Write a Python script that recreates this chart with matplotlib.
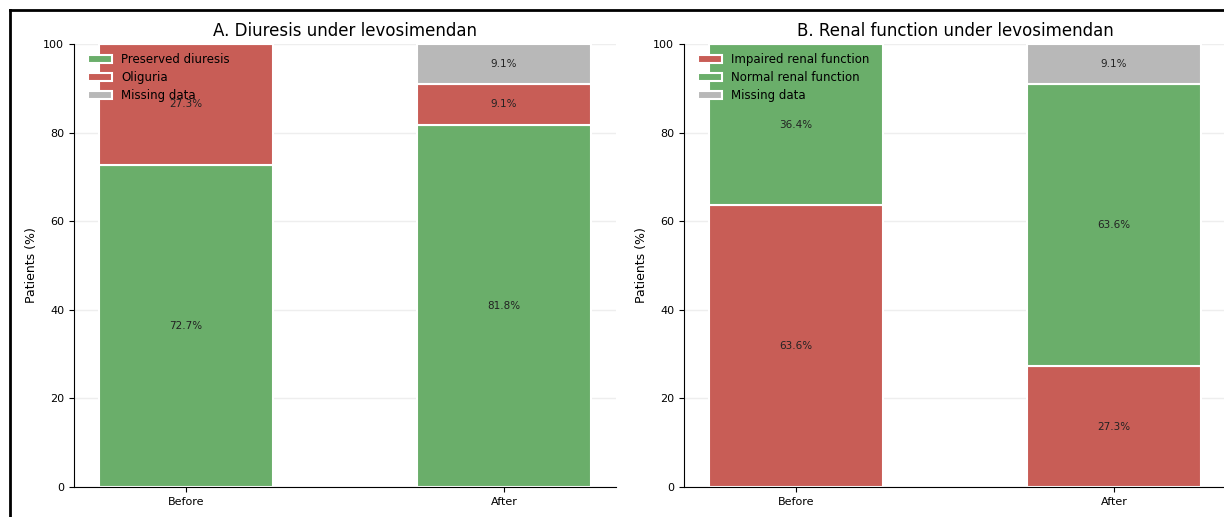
import numpy as np
import matplotlib
matplotlib.use("Agg")
import matplotlib.pyplot as plt
from matplotlib.lines import Line2D

# 数据
timepoints = ["Before", "After"]

diuresis_labels = ["Preserved diuresis", "Oliguria", "Missing data"]
preserved = [72.7, 81.8]
oliguria = [27.3, 9.1]
diuresis_missing = [0.0, 9.1]

renal_labels = ["Impaired renal function", "Normal renal function", "Missing data"]
impaired = [63.6, 27.3]
normal = [36.4, 63.6]
renal_missing = [0.0, 9.1]

green = "#6aae6a"
red = "#c85d56"
grey = "#b8b8b8"

fig = plt.figure(figsize=(12.24, 5.17), dpi=100)
ax1 = fig.add_axes([74 / 1224, 30 / 517, 542 / 1224, 443 / 517])
ax2 = fig.add_axes([684 / 1224, 30 / 517, 542 / 1224, 443 / 517])


def stacked(ax, series, labels, colors, title):
    x = np.arange(len(timepoints))
    bottom = np.zeros(len(timepoints))
    for vals, lab, col in zip(series, labels, colors):
        vals = np.array(vals)
        ax.bar(x, vals, 0.55, bottom=bottom, color=col, edgecolor="white",
               linewidth=1.5, label=lab, zorder=2)
        for xi, v, b in zip(x, vals, bottom):
            if v > 0:
                ax.text(xi, b + v / 2, f"{v:.1f}%", ha="center", va="center",
                        fontsize=7.5, color="#222222", zorder=3)
        bottom = bottom + vals
    ax.set_ylim(0, 100)
    ax.set_xticks(x)
    ax.set_xticklabels(timepoints, fontsize=8)
    ax.tick_params(axis="y", labelsize=8)
    ax.set_ylabel("Patients (%)", fontsize=9)
    ax.set_title(title, fontsize=12, pad=6)
    ax.yaxis.grid(True, color="#eeeeee", linewidth=1, zorder=0)
    ax.set_axisbelow(True)
    for s in ["top", "right"]:
        ax.spines[s].set_visible(False)
    ax.legend(loc="upper left", bbox_to_anchor=(0.0, 1.012), frameon=False,
              fontsize=8.5, borderaxespad=0.8, handlelength=2,
              labelspacing=0.45)


stacked(ax1, [preserved, oliguria, diuresis_missing], diuresis_labels,
        [green, red, grey], "A. Diuresis under levosimendan")
stacked(ax2, [impaired, normal, renal_missing], renal_labels,
        [red, green, grey], "B. Renal function under levosimendan")

# 外框
fig.add_artist(Line2D([10 / 1224, 1], [1 - 10 / 517, 1 - 10 / 517],
                      color="black", linewidth=2, transform=fig.transFigure))
fig.add_artist(Line2D([10 / 1224, 10 / 1224], [0, 1 - 10 / 517],
                      color="black", linewidth=2, transform=fig.transFigure))

fig.savefig("out.png", dpi=100)
